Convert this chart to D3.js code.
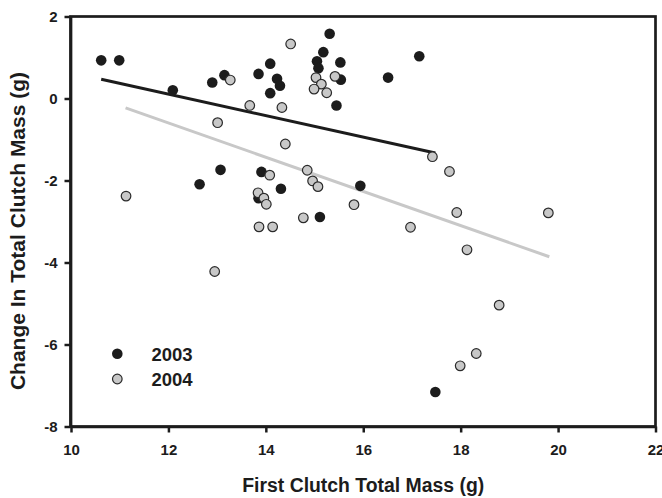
<!DOCTYPE html>
<html>
<head>
<meta charset="utf-8">
<script src="https://cdn.jsdelivr.net/npm/d3@7"></script>
<style>
html,body{margin:0;padding:0;background:#fff;}
svg{display:block;font-family:"Liberation Sans",Arial,sans-serif;}
</style>
</head>
<body>
<svg id="chart" width="662" height="498"></svg>
<script>
// 2003 series: [first clutch mass, change in clutch mass]
const x2003 = [10.62,10.99,12.09,12.90,13.15,13.85,14.09,14.23,14.29,14.09,15.31,15.18,15.05,15.08,15.53,15.54,15.45,16.51,17.15,12.64,13.07,13.91,14.31,13.85,15.11,15.94,17.48];
const y2003 = [0.93,0.93,0.20,0.39,0.57,0.60,0.85,0.48,0.31,0.13,1.58,1.13,0.91,0.74,0.88,0.46,-0.17,0.51,1.03,-2.09,-1.74,-1.79,-2.20,-2.43,-2.89,-2.13,-7.16];
// 2004 series
const x2004 = [14.51,13.27,15.42,15.03,15.14,14.99,15.25,13.67,14.33,13.01,14.40,17.42,17.77,11.13,12.95,14.08,13.84,13.96,14.01,13.86,14.14,14.85,14.96,15.07,14.77,15.81,16.97,17.92,19.80,18.13,18.79,18.32,17.99];
const y2004 = [1.33,0.45,0.54,0.51,0.35,0.23,0.14,-0.17,-0.22,-0.59,-1.11,-1.42,-1.78,-2.38,-4.22,-1.87,-2.30,-2.43,-2.58,-3.13,-3.13,-1.75,-2.01,-2.15,-2.91,-2.59,-3.14,-2.78,-2.79,-3.69,-5.04,-6.22,-6.52];
// fitted trend line endpoints
const trend2003X = [10.62,17.48];
const trend2003Y = [0.47,-1.33];
const trend2004X = [11.12,19.82];
const trend2004Y = [-0.23,-3.86];
// axes
const xTicks = [10,12,14,16,18,20,22];
const yTicks = [2,0,-2,-4,-6,-8];
const seriesNames = ["2003","2004"];
const xTitle = "First Clutch Total Mass (g)";
const yTitle = "Change In Total Clutch Mass (g)";

const svg = d3.select("#chart");
const dark = "#1c1c1c";
const grayFill = "#c8c8c8";
const x = d3.scaleLinear().domain([10,22]).range([71,655.5]);
const y = d3.scaleLinear().domain([-8,2]).range([426.5,16.5]);

// frame
svg.append("rect").attr("x",x(10)-0.5).attr("y",y(2)).attr("width",x(22)-x(10)+0.5).attr("height",y(-8)-y(2))
  .attr("fill","none").attr("stroke",dark).attr("stroke-width",2.7);

const fmt = d => String(d);
const xAxis = svg.append("g").attr("transform",`translate(0,${y(-8)})`)
  .call(d3.axisBottom(x).tickValues(xTicks).tickFormat(fmt).tickSize(6).tickPadding(12).tickSizeOuter(0));
const yAxis = svg.append("g").attr("transform",`translate(${x(10)-0.5},0)`)
  .call(d3.axisLeft(y).tickValues(yTicks).tickFormat(fmt).tickSize(6).tickPadding(7).tickSizeOuter(0));
[xAxis,yAxis].forEach(g=>{
  g.select(".domain").attr("stroke",dark).attr("stroke-width",2.7);
  g.selectAll(".tick line").attr("stroke",dark).attr("stroke-width",2.5);
  g.selectAll(".tick text").attr("fill",dark).style("font-size","15px").style("font-weight","bold")
    .style("font-family","'Liberation Sans',Arial,sans-serif");
});

// trend lines
const line = d3.line().x(d=>x(d[0])).y(d=>y(d[1]));
svg.append("path").datum(d3.zip(trend2004X,trend2004Y)).attr("d",line)
  .attr("stroke",grayFill).attr("stroke-width",3).attr("fill","none");
svg.append("path").datum(d3.zip(trend2003X,trend2003Y)).attr("d",line)
  .attr("stroke",dark).attr("stroke-width",3).attr("fill","none");

// points
svg.append("g").selectAll("circle").data(d3.zip(x2003,y2003)).join("circle")
  .attr("cx",d=>x(d[0])).attr("cy",d=>y(d[1])).attr("r",5.3).attr("fill",dark);
svg.append("g").selectAll("circle").data(d3.zip(x2004,y2004)).join("circle")
  .attr("cx",d=>x(d[0])).attr("cy",d=>y(d[1])).attr("r",4.8).attr("fill",grayFill)
  .attr("stroke","#2a2a2a").attr("stroke-width",1.2);

// legend
const leg = svg.append("g");
seriesNames.forEach((name,i)=>{
  const cy = 353.7 + i*25.3;
  const c = leg.append("circle").attr("cx",117.3).attr("cy",cy);
  if(i===0) c.attr("r",5.3).attr("fill",dark);
  else c.attr("r",4.8).attr("fill",grayFill).attr("stroke","#2a2a2a").attr("stroke-width",1.2);
  leg.append("text").attr("x",151.5).attr("y",cy+6.8).text(name)
    .attr("fill",dark).style("font-size","18.5px").style("font-weight","bold");
});

// axis titles
svg.append("text").attr("x",(x(10)+x(22))/2).attr("y",491.5).attr("text-anchor","middle")
  .text(xTitle).attr("fill",dark).style("font-size","19.4px").style("font-weight","bold");
svg.append("text").attr("transform",`translate(25,231) rotate(-90)`).attr("text-anchor","middle")
  .text(yTitle).attr("fill",dark).style("font-size","21px").style("font-weight","bold");
</script>
</body>
</html>
